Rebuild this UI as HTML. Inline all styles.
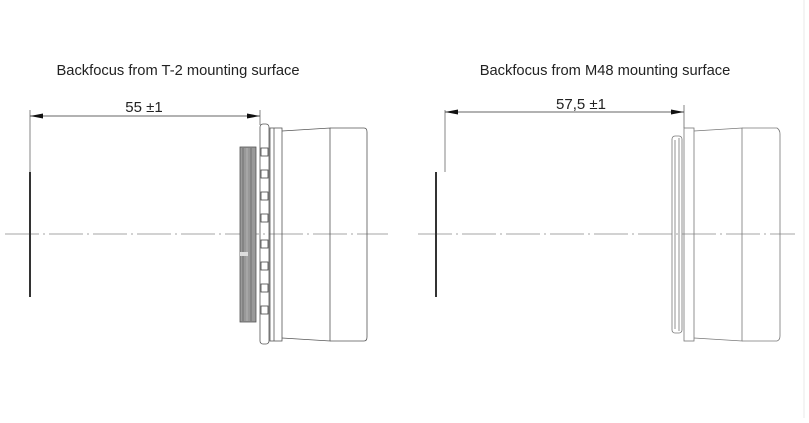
<!DOCTYPE html>
<html><head><style>
html,body{margin:0;padding:0;background:#fff;}
body{width:809px;height:418px;overflow:hidden;font-family:"Liberation Sans",sans-serif;}
</style></head><body>
<svg width="809" height="418" viewBox="0 0 809 418" xmlns="http://www.w3.org/2000/svg">
<line x1="804" y1="0" x2="804" y2="418" stroke="#e8e8e8" stroke-width="1"/>
<g font-family="Liberation Sans, sans-serif" fill="#222">
<text x="178" y="75" font-size="14.7" text-anchor="middle">Backfocus from T-2 mounting surface</text>
<text x="605" y="75" font-size="14.7" text-anchor="middle">Backfocus from M48 mounting surface</text>
<text x="144" y="112" font-size="15" text-anchor="middle">55 ±1</text>
<text x="581" y="109" font-size="15" text-anchor="middle">57,5 ±1</text>
</g>
<g stroke="#888" stroke-width="0.8" stroke-dasharray="34,4,2,4">
<line x1="5" y1="234" x2="388" y2="234"/>
<line x1="418" y1="234" x2="795" y2="234"/>
</g>
<g stroke="#333" fill="none">
<line x1="30" y1="172" x2="30" y2="297" stroke-width="2"/>
<line x1="30" y1="110" x2="30" y2="172" stroke-width="0.6"/>
<line x1="260" y1="110" x2="260" y2="125" stroke-width="0.6"/>
<line x1="30" y1="116" x2="260" y2="116" stroke-width="0.8"/>
</g>
<polygon points="30,116 43,113.5 43,118.5" fill="#111"/>
<polygon points="260,116 247,113.5 247,118.5" fill="#111"/>
<g stroke="#555" fill="none" stroke-width="0.8">
<rect x="240" y="147" width="16" height="175" fill="#999"/>
<line x1="243" y1="148" x2="243" y2="321" stroke="#666"/>
<line x1="247" y1="148" x2="247" y2="321" stroke="#bbb"/>
<line x1="251" y1="148" x2="251" y2="321" stroke="#666"/>
<rect x="260" y="124" width="9" height="220" rx="3"/>
<rect x="270" y="128" width="12" height="213"/>
<line x1="274" y1="128" x2="274" y2="341"/>
<path d="M282,131 L330,128 L330,341 L282,338"/>
<path d="M330,128 L364,128 Q367,128 367,132 L367,337 Q367,341 364,341 L330,341"/>
</g>
<g fill="#fff" stroke="#444" stroke-width="0.8">
<rect x="261" y="148" width="7" height="8"/><rect x="261" y="170" width="7" height="8"/>
<rect x="261" y="192" width="7" height="8"/><rect x="261" y="214" width="7" height="8"/>
<rect x="261" y="240" width="7" height="8"/><rect x="261" y="262" width="7" height="8"/>
<rect x="261" y="284" width="7" height="8"/><rect x="261" y="306" width="7" height="8"/>
</g>
<rect x="240" y="252" width="8" height="4" fill="#ddd"/>
<g stroke="#333" fill="none">
<line x1="436" y1="172" x2="436" y2="297" stroke-width="2"/>
<line x1="445" y1="110" x2="445" y2="172" stroke-width="0.6"/>
<line x1="684" y1="105" x2="684" y2="128" stroke-width="0.6"/>
<line x1="445" y1="112" x2="684" y2="112" stroke-width="0.8"/>
</g>
<polygon points="445,112 458,109.5 458,114.5" fill="#111"/>
<polygon points="684,112 671,109.5 671,114.5" fill="#111"/>
<g stroke="#777" fill="none" stroke-width="0.8">
<rect x="672" y="136" width="10" height="197" rx="3"/>
<line x1="675" y1="140" x2="675" y2="329"/>
<line x1="679" y1="138" x2="679" y2="331"/>
<rect x="684" y="128" width="10" height="213"/>
<path d="M694,131 L742,128 L742,341 L694,338"/>
<path d="M742,128 L777,128 Q780,130 780,134 L780,336 Q780,340 777,341 L742,341"/>
</g>
</svg>
</body></html>
